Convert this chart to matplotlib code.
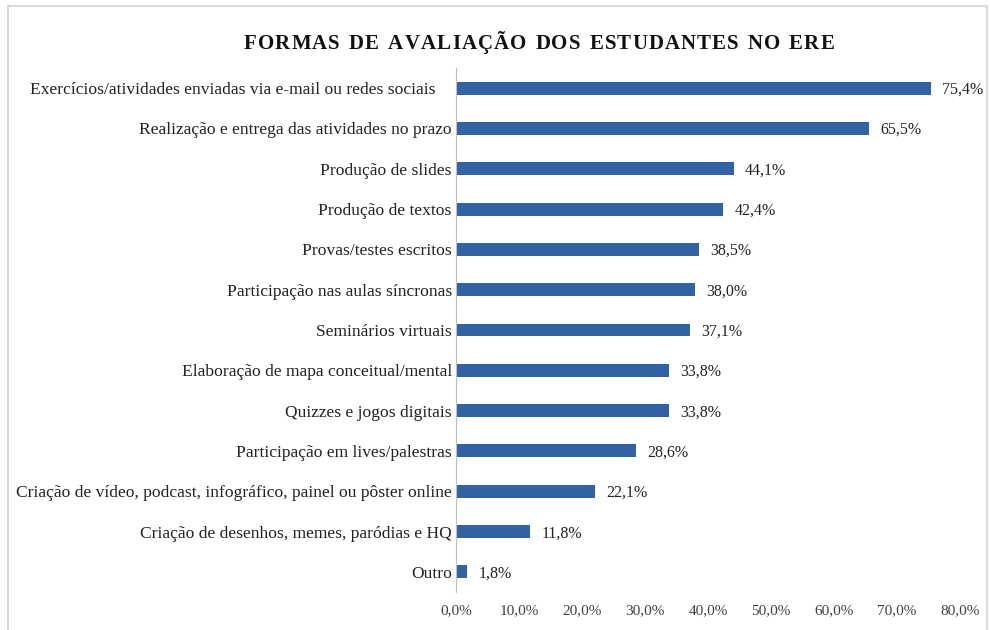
import matplotlib
matplotlib.use('Agg')
import matplotlib.pyplot as plt
import matplotlib.patches as mpatches
from matplotlib.transforms import offset_copy

categories = [
    'Exercícios/atividades enviadas via e-mail ou redes sociais',
    'Realização e entrega das atividades no prazo',
    'Produção de slides',
    'Produção de textos',
    'Provas/testes escritos',
    'Participação nas aulas síncronas',
    'Seminários virtuais',
    'Elaboração de mapa conceitual/mental',
    'Quizzes e jogos digitais',
    'Participação em lives/palestras',
    'Criação de vídeo, podcast, infográfico, painel ou pôster online',
    'Criação de desenhos, memes, paródias e HQ',
    'Outro',
]
values = [75.4, 65.5, 44.1, 42.4, 38.5, 38.0, 37.1, 33.8, 33.8, 28.6, 22.1, 11.8, 1.8]
xticks = [0, 10, 20, 30, 40, 50, 60, 70, 80]
title = 'FORMAS DE AVALIAÇÃO DOS ESTUDANTES NO ERE'

plt.rcParams['font.family'] = ['Liberation Serif', 'DejaVu Serif']

fig = plt.figure(figsize=(9.9, 6.3), dpi=100)
ax = fig.add_axes([456 / 990, 1 - 592 / 630, 504 / 990, 524 / 630])

# light frame around the chart area, like the original export
fig.patches.append(mpatches.Rectangle((8 / 990, -0.05), 979 / 990, 1 - 6 / 630 + 0.05,
                                      transform=fig.transFigure, fill=False,
                                      edgecolor='#d9d9d9', linewidth=1.5))

ys = list(range(len(categories)))
ax.barh(ys, values, height=0.32, color='#3262a3')
ax.set_ylim(len(categories) - 0.5, -0.5)
ax.set_xlim(0, 80)

for y, v in zip(ys, values):
    ax.text(v + 1.8, y + 0.04, f'{v:.1f}%'.replace('.', ','), va='center', ha='left',
            fontsize=11.5, color='#222222')

ax.set_yticks(ys)
ax.set_yticklabels(categories, fontsize=12.6, color='#222222')
ax.set_xticks(xticks)
ax.set_xticklabels([f'{t:.1f}%'.replace('.', ',') for t in xticks], fontsize=11, color='#404040')
ax.tick_params(axis='both', length=0)
ax.tick_params(axis='y', pad=3)
ax.tick_params(axis='x', pad=9)
# first label sits a bit further left in the original (trailing space)
lbl0 = ax.get_yticklabels()[0]
lbl0.set_transform(offset_copy(lbl0.get_transform(), fig=fig, x=-16, y=0, units='dots'))

for s in ['top', 'right', 'bottom']:
    ax.spines[s].set_visible(False)
ax.spines['left'].set_color('#bfbfbf')

# letter-spaced bold title, placed char by char on a common baseline
renderer = fig.canvas.get_renderer()
track, word_gap = 1.1, 3.0
pieces = []
for ch in title:
    t = fig.text(0, 1 - 49 / 630, ch, ha='left', va='baseline', fontsize=15,
                 fontweight='bold', color='#111111')
    w = t.get_window_extent(renderer).width if ch != ' ' else 4.0
    pieces.append((t, w, ch))
total = sum(w for _, w, _ in pieces) + track * (len(pieces) - 1) \
    + word_gap * title.count(' ')
x = 539 - total / 2
for t, w, ch in pieces:
    t.set_x(x / 990)
    x += w + track + (word_gap if ch == ' ' else 0)

plt.savefig('out.png', dpi=100)
plt.close()
